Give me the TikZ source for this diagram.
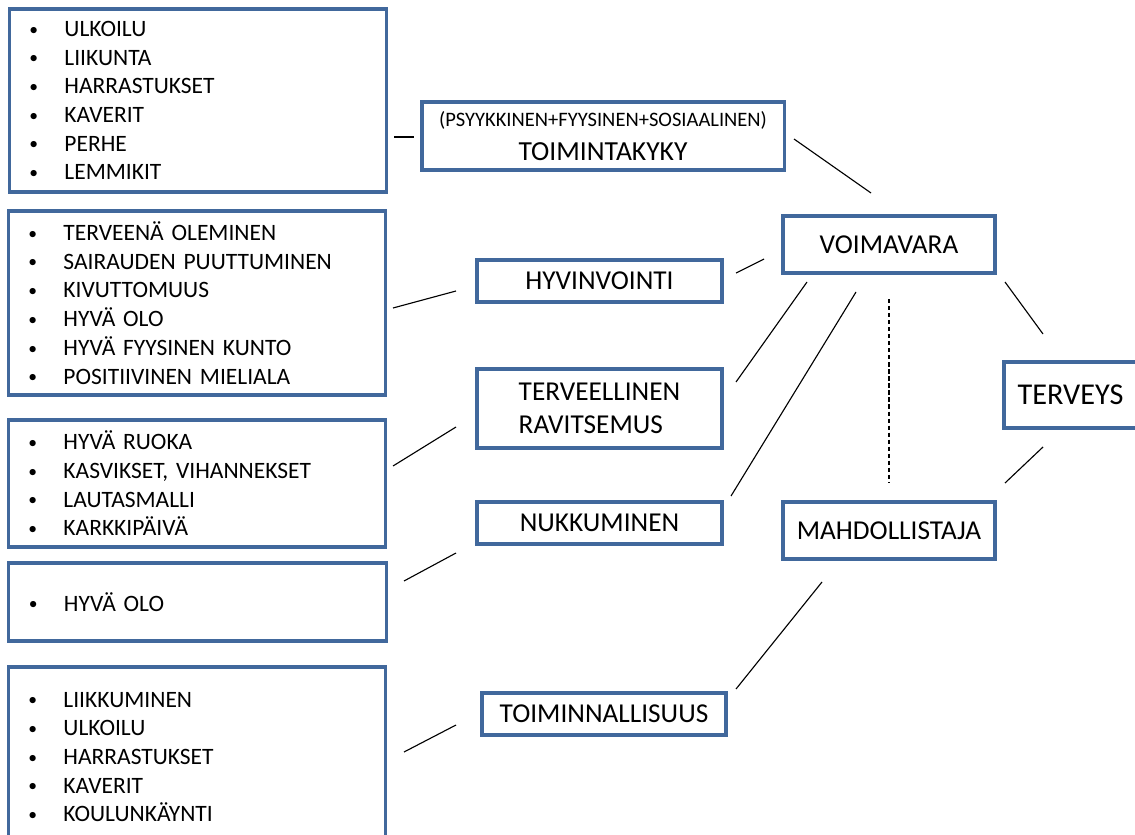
\documentclass[tikz,border=0pt]{standalone}
\usepackage{graphicx}
\usepackage{fontspec}
\setmainfont{Carlito}
\usetikzlibrary{positioning}
\definecolor{boxblue}{HTML}{41689C}
\newcommand\itm[1]{\makebox[0.9cm][l]{\hspace{0.02cm}\raisebox{0.12ex}{\scalebox{0.75}{\textbullet}}}#1}

\begin{document}
\begin{tikzpicture}[x=0.025cm, y=-0.025cm,
    box/.style={draw=boxblue, line width=2.2pt, inner sep=0pt, fill=white},
    listbox/.style={box, minimum width=9.425cm, text width=8.475cm, inner xsep=0.475cm,
      align=left, font=\fontsize{16.7}{20.4}\selectfont},
    midbox/.style={box, minimum height=1.05cm, font=\fontsize{19.4}{23}\selectfont},
    conn/.style={line width=0.8pt}]
    \useasboundingbox[fill=white] (0,0) rectangle (1135,834);
    % lists on the left
    \node[listbox, minimum height=4.575cm] (lst1) at (198,100.5)
      {\itm{ULKOILU}\\ \itm{LIIKUNTA}\\ \itm{HARRASTUKSET}\\ \itm{KAVERIT}\\ \itm{PERHE}\\ \itm{LEMMIKIT}};
    \node[listbox, minimum height=4.6cm] (lst2) at (197,303)
      {\itm{TERVEENÄ OLEMINEN}\\ \itm{SAIRAUDEN PUUTTUMINEN}\\ \itm{KIVUTTOMUUS}\\ \itm{HYVÄ OLO}\\ \itm{HYVÄ FYYSINEN KUNTO}\\ \itm{POSITIIVINEN MIELIALA}};
    \node[listbox, minimum height=3.175cm] (lst3) at (197,483.5)
      {\itm{HYVÄ RUOKA}\\ \itm{KASVIKSET, VIHANNEKSET}\\ \itm{LAUTASMALLI}\\ \itm{KARKKIPÄIVÄ}};
    \node[listbox, minimum height=1.95cm] (lst4) at (197.5,602)
      {\itm{HYVÄ OLO}};
    \node[listbox, minimum height=4.5cm] (lst5) at (197,757)
      {\itm{LIIKKUMINEN}\\ \itm{ULKOILU}\\ \itm{HARRASTUKSET}\\ \itm{KAVERIT}\\ \itm{KOULUNKÄYNTI}};
    % middle column
    \node[box, minimum width=9.05cm, minimum height=1.7cm, align=center] (tkk) at (603,136)
      {{\fontsize{14.6}{16}\selectfont (PSYYKKINEN+FYYSINEN+SOSIAALINEN)}\\[8pt]
       {\fontsize{19.6}{20}\selectfont TOIMINTAKYKY}};
    \node[midbox, minimum width=6.125cm] (hyv) at (599.5,281) {HYVINVOINTI};
    \node[midbox, minimum width=6.125cm, minimum height=1.975cm, align=left,
      font=\fontsize{19.4}{23}\selectfont] (rav) at (599.5,408.5) {TERVEELLINEN\\ RAVITSEMUS};
    \node[midbox, minimum width=6.125cm] (nuk) at (599.5,523) {NUKKUMINEN};
    \node[midbox, minimum width=6.1cm] (tmn) at (604,714) {TOIMINNALLISUUS};
    % right side
    \node[midbox, minimum width=5.3cm, minimum height=1.425cm] (vma) at (889,244.5) {VOIMAVARA};
    \node[midbox, minimum width=5.3cm, minimum height=1.425cm] (mhd) at (889,530.5) {MAHDOLLISTAJA};
    \node[midbox, minimum width=3.325cm, minimum height=1.65cm,
      font=\fontsize{21.5}{25}\selectfont] (ter) at (1070.5,395) {TERVEYS};
    % loose ends of the connectors
    \coordinate (a1) at (394,137);  \coordinate (b1) at (414,137);
    \coordinate (a2) at (794,139);  \coordinate (b2) at (871,193);
    \coordinate (a3) at (393,308);  \coordinate (b3) at (456,291);
    \coordinate (a4) at (736,273);  \coordinate (b4) at (764,259);
    \coordinate (a5) at (736,382);  \coordinate (b5) at (807,282);
    \coordinate (a6) at (731,496);  \coordinate (b6) at (856,292);
    \coordinate (a7) at (1005,282); \coordinate (b7) at (1043,334);
    \coordinate (a8) at (1005,483); \coordinate (b8) at (1043,447);
    \coordinate (a9) at (393,466);  \coordinate (b9) at (456,427);
    \coordinate (a10) at (404,581); \coordinate (b10) at (456,553);
    \coordinate (a11) at (404,752); \coordinate (b11) at (456,725);
    \coordinate (a12) at (736,689); \coordinate (b12) at (822,582);
    \coordinate (d1) at (889,299);  \coordinate (d2) at (889,483);
    \foreach \i in {1,...,12} {
        \draw[conn] (a\i) -- (b\i);
    }
    \draw[conn, dash pattern=on 3pt off 2pt] (d1) -- (d2);
\end{tikzpicture}
\end{document}
